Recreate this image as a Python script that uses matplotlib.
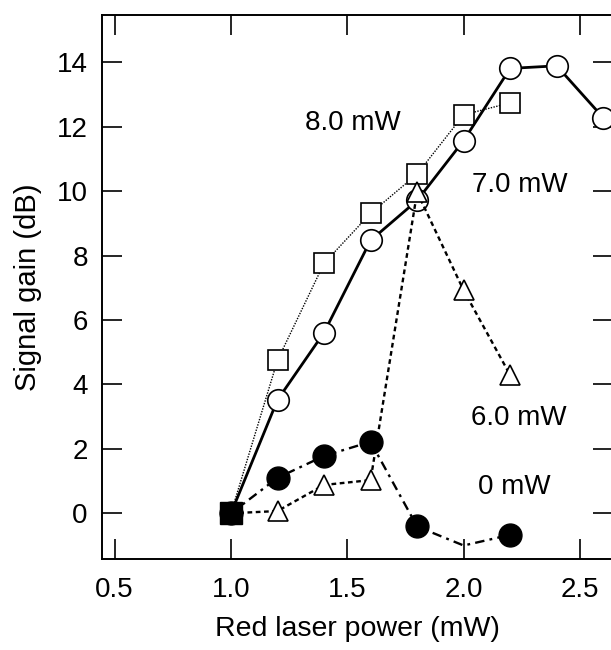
import matplotlib
matplotlib.use("Agg")
import matplotlib.pyplot as plt

plt.rcParams['font.family'] = ['Liberation Sans', 'DejaVu Sans']

# 8.0 mW (open squares, dotted)
sq_x = [1.0, 1.2, 1.4, 1.6, 1.8, 2.0, 2.2]
sq_y = [0.0, 4.75, 7.76, 9.31, 10.53, 12.37, 12.74]

# 7.0 mW (open circles, solid)
ci_x = [1.0, 1.2, 1.4, 1.6, 1.8, 2.0, 2.2, 2.4, 2.6]
ci_y = [0.0, 3.52, 5.61, 8.47, 9.71, 11.57, 13.81, 13.89, 12.28]

# 6.0 mW (open triangles, dashed)
tr_x = [1.0, 1.2, 1.4, 1.6, 1.8, 2.0, 2.2]
tr_y = [0.0, 0.07, 0.88, 1.03, 9.97, 6.92, 4.29]

# 0 mW (filled circles, dash-dot); the 2.0 mW point has no marker
fc_x = [1.0, 1.2, 1.4, 1.6, 1.8, 2.0, 2.2]
fc_y = [0.0, 1.10, 1.78, 2.22, -0.41, -1.0, -0.67]
fc_marked = [0, 1, 2, 3, 4, 6]

labels = ["8.0 mW", "7.0 mW", "6.0 mW", "0 mW"]
label_x = [1.526, 2.24, 2.236, 2.218]
label_y = [12.11, 10.19, 2.97, 0.82]

fig = plt.figure(figsize=(6.11, 6.5), dpi=100)
ax = fig.add_axes([101.7 / 611, 91 / 650, 511.3 / 611, 544 / 650])

ax.plot(fc_x, fc_y, color='black', lw=1.7, linestyle=(0, (4, 2.2, 1.2, 2.2)),
        marker='o', markersize=16.5, markerfacecolor='black',
        markeredgecolor='black', markevery=fc_marked, zorder=2)
ax.plot(sq_x, sq_y, color='black', lw=1.0, linestyle=(0, (1, 1)),
        marker='s', markersize=14.5, markerfacecolor='white',
        markeredgecolor='black', markeredgewidth=1.2, zorder=3)
ax.plot(ci_x, ci_y, color='black', lw=2.0, linestyle='-',
        marker='o', markersize=15.5, markerfacecolor='white',
        markeredgecolor='black', markeredgewidth=1.2, zorder=4)
ax.plot(tr_x, tr_y, color='black', lw=1.7, linestyle=(0, (2, 1.5)),
        marker='^', markersize=15, markerfacecolor='white',
        markeredgecolor='black', markeredgewidth=1.2, zorder=5)
# shared starting point drawn as a filled square
ax.plot(sq_x[:1], sq_y[:1], linestyle='none', marker='s', markersize=16,
        markerfacecolor='black', markeredgecolor='black', zorder=6)

for txt, tx, ty in zip(labels, label_x, label_y):
    ax.text(tx, ty, txt, fontsize=20, ha='center', va='center')

ax.set_xlim(0.4443, 2.642)
ax.set_ylim(-1.419, 15.468)
ax.set_xticks([0.5, 1.0, 1.5, 2.0, 2.5])
ax.set_xticklabels(["0.5", "1.0", "1.5", "2.0", "2.5"])
ax.set_yticks([0, 2, 4, 6, 8, 10, 12, 14])

ax.tick_params(direction='in', length=14.4, width=1.2, labelsize=20,
               top=True, right=True)
ax.tick_params(axis='x', pad=13)
ax.tick_params(axis='y', pad=10)
for sp in ax.spines.values():
    sp.set_linewidth(1.4)

ax.set_xlabel("Red laser power (mW)", fontsize=20.5, labelpad=9)
ax.set_ylabel("Signal gain (dB)", fontsize=21, labelpad=11)

fig.savefig("out.png", dpi=100, facecolor='white')
